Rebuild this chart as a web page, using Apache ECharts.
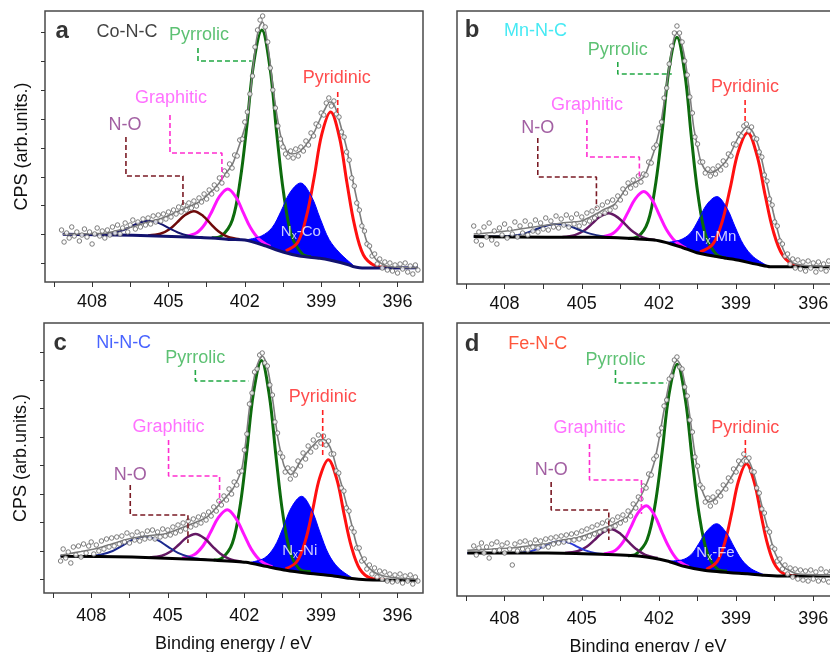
<!DOCTYPE html>
<html>
<head>
<meta charset="utf-8">
<script src="https://cdn.jsdelivr.net/npm/echarts@6/dist/echarts.min.js"></script>
<style>html,body{margin:0;padding:0;background:#fff}#main{width:830px;height:652px}</style>
</head>
<body>
<div id="main"></div>
<script>
// binding energy of the measured points (eV), shared by the four scans
const energyScan = [
  409.2,409.1,409.0,408.9,408.8,408.7,408.6,408.5,408.4,408.3,
  408.2,408.1,408.0,407.9,407.8,407.7,407.6,407.5,407.4,407.3,
  407.2,407.1,407.0,406.9,406.8,406.7,406.6,406.5,406.4,406.3,
  406.2,406.1,406.0,405.9,405.8,405.7,405.6,405.5,405.4,405.3,
  405.2,405.1,405.0,404.9,404.8,404.7,404.6,404.5,404.4,404.3,
  404.2,404.1,404.0,403.9,403.8,403.7,403.6,403.5,403.4,403.3,
  403.2,403.1,403.0,402.9,402.8,402.7,402.6,402.5,402.4,402.3,
  402.2,402.1,402.0,401.9,401.8,401.7,401.6,401.5,401.4,401.3,
  401.2,401.1,401.0,400.9,400.8,400.7,400.6,400.5,400.4,400.3,
  400.2,400.1,400.0,399.9,399.8,399.7,399.6,399.5,399.4,399.3,
  399.2,399.1,399.0,398.9,398.8,398.7,398.6,398.5,398.4,398.3,
  398.2,398.1,398.0,397.9,397.8,397.7,397.6,397.5,397.4,397.3,
  397.2,397.1,397.0,396.9,396.8,396.7,396.6,396.5,396.4,396.3,
  396.2,396.1,396.0,395.9,395.8,395.7,395.6,395.5,395.4,395.3,
  395.2
];

const countsA = [
  52,40,49,44,55,46,50,41,47,53, 45,50,38,48,54,46,51,44,52,47,
  55,49,57,48,54,59,50,57,62,53, 60,55,63,57,64,58,66,60,67,61,
  68,63,70,65,72,68,75,70,77,72, 79,74,81,76,84,80,88,83,92,88,
  97,93,104,99,111,107,118,114,127,126, 142,143,160,170,188,206,235,252,262,266,
  255,240,214,192,174,156,143,135,128,125, 131,124,133,126,135,131,141,137,149,146,
  158,156,169,167,179,184,176,181,168,165, 150,145,130,122,104,96,79,72,56,51,
  38,36,26,28,18,23,14,20,12,19, 11,17,9,18,13,19,10,16,8,17, 12
];
const countsB = [
  58,43,52,39,57,47,61,44,53,40, 56,49,60,46,55,50,62,47,58,51,
  63,49,59,53,64,52,61,55,66,54, 63,57,68,56,65,59,69,57,66,60,
  70,58,67,61,71,63,73,66,76,69, 79,71,82,74,84,77,88,84,95,91,
  101,96,104,99,108,102,110,109,122,121, 136,139,156,162,186,196,220,238,251,258,
  251,242,223,209,187,171,147,140,122,122, 111,115,108,115,110,118,114,123,119,130,
  128,140,139,150,148,158,160,153,157,146, 145,132,127,109,103,85,79,62,58,43,
  40,28,30,20,25,16,24,15,22,13, 23,16,21,12,22,15,20,13,23,16, 21
];
const countsC = [
  32,44,35,41,30,46,38,47,36,49, 40,47,51,39,48,42,52,44,54,46,
  55,47,56,49,57,51,60,50,58,53, 61,52,59,54,62,55,63,54,61,56,
  64,57,63,58,66,60,68,62,70,64, 72,66,74,68,76,70,78,73,81,77,
  86,82,92,88,97,93,104,99,111,108, 121,122,143,159,189,200,221,224,238,240,
  230,227,208,198,171,160,140,136,121,125, 114,124,118,132,127,140,134,147,141,153,
  146,158,150,157,148,152,139,139,122,120, 105,102,85,82,65,61,45,45,32,34,
  24,28,19,25,16,22,14,21,12,19, 11,18,12,19,10,17,12,18,9,16, 12
];
const countsD = [
  50,41,48,53,43,49,38,52,45,54, 46,51,43,53,47,31,52,45,54,47,
  55,46,53,49,56,48,55,50,57,49, 58,52,59,53,60,54,61,55,62,56,
  63,57,65,58,67,60,69,62,71,64, 73,66,75,68,76,70,79,73,81,76,
  85,80,92,88,99,97,110,108,122,121, 137,140,161,168,190,196,217,220,236,239,
  229,227,209,200,176,164,139,130,111,108, 94,98,90,99,94,104,100,111,107,118,
  115,127,124,135,132,142,135,138,125,124, 108,103,87,83,67,64,49,47,35,37,
  27,31,22,28,19,27,17,26,16,25, 15,26,17,24,15,27,16,24,14,25, 18
];

// fitted envelopes [eV, intensity]
const envelopeA = [[409.15,47.7],[408.2,48.3],[407.45,48.8],[406.9,52.2],[406.4,55.3],[405.75,60.3],[405.09,65.3],[404.44,72.7],[403.78,80.3],[403.4,88.6],[403.12,95.3],[402.8,106.6],[402.47,118.7],[402.2,138],[401.94,160],[401.8,185],[401.68,214],[401.55,241],[401.42,256],[401.3,260],[401.18,250],[401.03,224],[400.9,196],[400.77,172],[400.6,147],[400.5,138.7],[400.35,131],[400.15,128],[399.85,130.3],[399.6,137],[399.45,142],[399.25,151],[399.06,162],[398.85,173],[398.67,180],[398.55,179.5],[398.41,172],[398.2,153],[398.01,135],[397.8,107],[397.62,85],[397.4,59],[397.23,42],[397.0,29],[396.83,22],[396.6,18],[396.44,16],[396.0,14.8],[395.2,14.3]];
const envelopeB = [[409.2,50],[408.8,50.7],[408.2,52.2],[407.64,54],[407.0,56.5],[406.34,59],[405.7,61.3],[405.05,62.8],[404.7,66.5],[404.4,70.7],[404.1,75],[403.76,79],[403.5,87],[403.24,97],[402.9,102],[402.59,107],[402.4,118],[402.2,132],[401.95,157],[401.82,178],[401.69,201],[401.55,226],[401.42,245],[401.3,252],[401.17,246],[401.05,233],[400.97,222],[400.8,190],[400.65,157],[400.5,137],[400.39,124],[400.25,116],[400.13,112.3],[399.95,111.5],[399.75,114],[399.55,118.5],[399.36,124],[399.15,134],[398.97,144],[398.78,152],[398.58,157],[398.45,155.5],[398.32,150.7],[398.12,137],[397.94,117],[397.75,94],[397.55,71],[397.35,50],[397.16,34],[396.95,25],[396.77,20.7],[396.4,18.7],[395.8,18.1],[395.2,18]];
const envelopeC = [[409.2,38],[409.09,38.3],[408.4,41.5],[407.71,45],[407.2,49],[406.66,53.3],[406.3,55.2],[405.88,56.7],[405.5,58],[405.09,59.3],[404.7,62.8],[404.3,66.7],[403.9,70.8],[403.52,75],[403.25,81],[402.99,88.3],[402.75,95],[402.47,103.3],[402.25,114],[402.08,126.7],[401.95,150],[401.81,183],[401.68,206],[401.55,223],[401.42,233],[401.29,236.7],[401.16,231],[401.03,217],[400.87,190],[400.7,157],[400.55,138],[400.44,127],[400.3,121],[400.18,118.3],[400.0,123],[399.85,130],[399.65,137],[399.46,143.3],[399.25,149],[399.06,153.3],[398.9,153.5],[398.73,150],[398.55,140],[398.41,127],[398.2,109],[398.01,90],[397.8,69],[397.62,50],[397.42,37],[397.23,28.3],[396.95,21.5],[396.7,18.3],[396.2,15.5],[395.33,14],[395.2,14]];
const envelopeD = [[409.45,45.7],[408.5,47],[407.64,48.3],[407.0,50.3],[406.34,52.3],[405.82,55.7],[405.18,58.3],[404.85,61],[404.53,64],[404.2,67.3],[403.85,70.7],[403.55,74.5],[403.23,79],[402.98,88],[402.72,99],[402.45,114],[402.2,132],[402.03,152],[401.87,176],[401.7,200],[401.55,219],[401.42,231],[401.29,235.7],[401.15,230],[400.97,209],[400.8,180],[400.64,149],[400.48,124],[400.32,105.7],[400.18,97.5],[400.06,94],[399.9,95.5],[399.74,99],[399.55,105],[399.35,112.3],[399.15,120.5],[398.96,129],[398.8,135.5],[398.64,139],[398.48,134],[398.31,122],[398.12,103],[397.92,82],[397.72,63],[397.53,45.7],[397.35,36],[397.15,29],[396.9,25],[396.63,22.3],[396.0,21.2],[395.4,20.7],[395.2,20.6]];

// backgrounds
const baselineA = [[395.2,14.3],[397.3,13.9],[397.75,15.5],[398.0,17.8],[398.67,22],[399.06,23.7],[399.85,26],[400.5,30],[401.29,37],[402.0,42],[402.59,42.5],[403.26,44],[404.57,45.3],[406.4,46.7],[409.15,47.7]];
const baselineB = [[395.2,17.3],[397.68,17.3],[398.06,19],[399.1,24.7],[399.88,28],[400.52,31.3],[401.17,37.3],[402.01,43.3],[403.24,45.7],[404.53,46.7],[406.34,46.7],[408.8,47.3],[409.2,47.4]];
const baselineC = [[395.2,12.7],[397.23,13.3],[397.88,14.7],[398.54,17.3],[399.59,20],[400.37,22.7],[401.16,26.7],[401.94,30.7],[403.12,32.7],[404.3,34],[406.4,36],[409.02,36.7],[409.2,36.8]];
const baselineD = [[395.2,20],[397.27,20],[397.92,20.7],[398.57,22.3],[399.22,23.3],[400.25,25.7],[401.03,29.7],[401.68,35],[402.72,39.7],[404.27,41.7],[406.34,43],[409.45,43]];

// fitted components [eV, intensity incl. background]
const pyrrolicA = [[399.4,25.2],[399.74,27.9],[400.17,47.1],[400.48,89.7],[400.75,149.5],[401.01,214],[401.33,252],[401.65,219],[401.91,158.5],[402.18,102],[402.49,62],[402.92,46.1],[403.3,44.2]];
const pyridinicA = [[396.4,14.5],[396.87,16.1],[397.34,27.0],[397.69,56.8],[397.99,99.6],[398.28,144.3],[398.63,170],[398.98,147.3],[399.27,105.6],[399.57,66.6],[399.92,39.7],[400.39,31.1]];
const nxA = [[397.71,16.1],[398.27,29],[398.69,42.6],[399.04,63.5],[399.39,86],[399.81,99],[400.23,89.3],[400.58,70.7],[400.93,54.3],[401.35,46],[401.91,42.3]];
const graphiticA = [[401.0,35.6],[401.45,43],[401.78,54.4],[402.06,69.3],[402.34,84.5],[402.67,93],[403.0,85.3],[403.28,71.3],[403.56,58.2],[403.89,49.3],[404.34,45.7]];
const noxA = [[402.2,42.7],[402.68,45.3],[403.04,50.8],[403.34,58.2],[403.64,66.1],[404.0,70.8],[404.36,66.8],[404.66,59.6],[404.96,52.8],[405.32,48.2],[405.8,46.5]];
const broadA = [[403.65,44.6],[404.21,46.3],[404.63,49.5],[404.98,53.8],[405.33,58.4],[405.75,61.2],[406.17,59],[406.52,54.9],[406.87,51.1],[407.29,48.4],[407.85,47.5],[408.6,47.8],[409.15,47.9]];

const pyrrolicB = [[399.4,26],[399.77,29.8],[400.18,48.2],[400.48,89],[400.74,147.1],[400.99,209.7],[401.3,246.7],[401.61,214.6],[401.86,156],[402.12,101.6],[402.42,62.7],[402.83,47.2],[403.2,45.6]];
const pyridinicB = [[396.2,17.4],[396.69,18.7],[397.19,28.8],[397.56,53.3],[397.87,88.8],[398.18,127.8],[398.55,151.3],[398.92,132],[399.23,95.9],[399.54,62.5],[399.91,39.6],[400.41,32.1]];
const nxB = [[397.8,18.5],[398.32,27],[398.71,39.2],[399.04,57.2],[399.36,75.9],[399.75,87.4],[400.14,79.5],[400.47,63.7],[400.79,50.5],[401.18,44],[401.7,41.6]];
const graphiticB = [[400.94,35.6],[401.38,43.1],[401.71,54.5],[401.99,69.4],[402.26,83.9],[402.59,92.4],[402.92,85.2],[403.2,71.9],[403.47,59.2],[403.8,50.4],[404.24,47]];
const noxB = [[402.15,43.9],[402.63,46.7],[402.99,52],[403.29,59.1],[403.59,66.4],[403.95,70.7],[404.31,67],[404.61,60.1],[404.91,53.5],[405.27,48.9],[405.75,47]];
const broadB = [[403.56,46],[404.2,47.7],[404.68,50.4],[405.08,54],[405.48,57.8],[405.96,60],[406.44,57.8],[406.84,54],[407.24,50.4],[407.72,48.2],[408.36,47.4],[409.2,47.6]];

const pyrrolicC = [[399.4,21.5],[399.77,22.8],[400.19,40],[400.5,80.4],[400.76,136.6],[401.02,197.2],[401.33,232.6],[401.64,200.4],[401.9,142.5],[402.16,88.1],[402.47,49.8],[402.89,34.6],[403.2,33]];
const pyridinicC = [[396.5,13.4],[397.03,14.6],[397.48,24.1],[397.81,46.7],[398.09,78.6],[398.37,113.1],[398.71,133.3],[399.05,115.1],[399.33,82.4],[399.61,52.1],[399.94,31.5],[400.39,24.1]];
const nxC = [[397.78,15.3],[398.31,25],[398.7,38.9],[399.03,60.2],[399.36,83],[399.76,96.7],[400.16,85.4],[400.49,64.9],[400.82,46.2],[401.21,35],[401.74,30.8]];
const graphiticC = [[400.9,26],[401.37,32.4],[401.73,43.9],[402.02,58.9],[402.32,74.2],[402.67,83.3],[403.02,75.4],[403.32,61],[403.61,47.5],[403.97,38.2],[404.44,34.7]];
const noxC = [[402.11,31.3],[402.59,34.1],[402.95,39.5],[403.25,46.7],[403.55,54.4],[403.91,59],[404.27,55.3],[404.57,48.2],[404.87,41.7],[405.23,37.3],[405.71,35.6]];
const broadC = [[403.48,33.3],[404.12,35.8],[404.6,40.1],[405.0,46.4],[405.4,52.8],[405.88,56.5],[406.36,53.5],[406.76,47.6],[407.16,42],[407.64,38.3],[408.28,36.7],[409.2,36.9]];

const pyrrolicD = [[399.35,25],[399.7,26.6],[400.12,43.2],[400.44,82.3],[400.71,137.2],[400.97,196.3],[401.29,231.8],[401.61,201.6],[401.87,145.2],[402.14,92.8],[402.46,56.3],[402.88,42.1],[403.2,40.3]];
const pyridinicD = [[396.6,20.1],[397.04,21.2],[397.46,30],[397.77,51.1],[398.03,81.1],[398.29,113.5],[398.6,132.3],[398.91,114.7],[399.17,83.3],[399.43,54.3],[399.74,34.3],[400.16,26.7]];
const nxD = [[397.9,21.2],[398.4,27],[398.77,35.9],[399.08,49.2],[399.39,63.6],[399.76,72.3],[400.13,65.2],[400.44,52.8],[400.75,41.3],[401.12,36],[401.62,35]];
const graphiticD = [[400.84,29.3],[401.28,36.3],[401.61,48.9],[401.89,64.2],[402.16,80.3],[402.49,90.2],[402.82,82.9],[403.1,68.3],[403.37,54.8],[403.7,45.5],[404.14,42.1]];
const noxD = [[402.05,37.9],[402.53,41.1],[402.89,47.1],[403.19,54.3],[403.49,62.1],[403.85,66.7],[404.21,63.1],[404.51,55.9],[404.81,49.2],[405.17,44.7],[405.65,43]];
const broadD = [[404.02,41.6],[404.5,43],[404.86,45.6],[405.16,49.1],[405.46,52.9],[405.82,55.1],[406.18,53.3],[406.48,49.7],[406.78,46.4],[407.14,44.1],[407.62,43.1],[408.5,43],[409.45,43]];

// axes
const xLabelValues = [396, 399, 402, 405, 408];
const xTickValues = [396, 397.5, 399, 400.5, 402, 403.5, 405, 406.5, 408, 409.5];
const yTicksA = [19, 48, 77, 105, 134, 163, 192, 221, 250];
const yTicksC = [14, 42, 71, 99, 128, 156, 185, 213, 241];

// annotation anchors [eV, intensity]
const notesA = {letter:[409.18,251], sample:[406.63,250], pyrrolic:[403.8,247], graphitic:[404.9,184], nox:[406.71,157], pyridinic:[398.39,204], nx:[399.8,50]};
const notesB = {letter:[409.26,254], sample:[406.8,253], pyrrolic:[403.6,234], graphitic:[404.8,179], nox:[406.71,156], pyridinic:[398.65,197], nx:[399.8,47]};
const notesC = {letter:[409.22,250], sample:[406.73,250], pyrrolic:[403.92,235], graphitic:[404.97,166], nox:[406.47,118], pyridinic:[398.93,196], nx:[399.83,42]};
const notesD = {letter:[409.26,252], sample:[406.71,252], pyrrolic:[403.69,236], graphitic:[404.7,168], nox:[406.19,126], pyridinic:[398.64,168], nx:[399.8,43]};

const leadersA = {
  pyrrolic:[[403.84,234],[403.84,221],[401.73,221]],
  graphitic:[[404.94,167],[404.94,129],[402.9,129],[402.9,102]],
  nox:[[406.67,145],[406.67,106],[404.43,106],[404.43,75]],
  pyridinic:[[398.35,190],[398.35,167]]
};
const leadersB = {
  pyrrolic:[[403.6,222],[403.6,210],[401.5,210]],
  graphitic:[[404.8,164],[404.8,127],[402.76,127],[402.76,104]],
  nox:[[406.71,146],[406.71,107],[404.43,107],[404.43,76]],
  pyridinic:[[398.65,184],[398.65,161]]
};
const leadersC = {
  pyrrolic:[[403.92,223],[403.92,212],[401.83,212]],
  graphitic:[[404.97,153],[404.97,117],[402.97,117],[402.97,90]],
  nox:[[406.47,108],[406.47,78],[404.21,78],[404.21,50]],
  pyridinic:[[398.93,183],[398.93,137]]
};
const leadersD = {
  pyrrolic:[[403.69,226],[403.69,213],[401.69,213]],
  graphitic:[[404.7,152],[404.7,116],[402.68,116],[402.68,82]],
  nox:[[406.19,114],[406.19,86],[403.95,86],[403.95,56]],
  pyridinic:[[398.64,156],[398.64,139]]
};

const FONT = '"Liberation Sans", Arial, Helvetica, sans-serif';

const panels = [
  {letter:'a', sample:'Co-N-C', sampleColor:'#111111', metal:'Co',
   grid:{left:45, top:11, width:378, height:271}, yTicks:yTicksA, xName:false, labelGap:11,
   counts:countsA, envelope:envelopeA, baseline:baselineA, pyrrolic:pyrrolicA, pyridinic:pyridinicA,
   nx:nxA, graphitic:graphiticA, nox:noxA, broad:broadA, notes:notesA, leaders:leadersA,
   noxColor:'#6e0a0a', broadColor:'#141470', baseColor:'#12126e'},
  {letter:'b', sample:'Mn-N-C', sampleColor:'#18e4f0', metal:'Mn',
   grid:{left:457, top:11, width:382, height:273}, yTicks:null, xName:false, labelGap:11,
   counts:countsB, envelope:envelopeB, baseline:baselineB, pyrrolic:pyrrolicB, pyridinic:pyridinicB,
   nx:nxB, graphitic:graphiticB, nox:noxB, broad:broadB, notes:notesB, leaders:leadersB,
   noxColor:'#641864', broadColor:'#1c2a80', baseColor:'#000000'},
  {letter:'c', sample:'Ni-N-C', sampleColor:'#1a3cff', metal:'Ni',
   grid:{left:44, top:323, width:379, height:270}, yTicks:yTicksC, xName:true, labelGap:14,
   counts:countsC, envelope:envelopeC, baseline:baselineC, pyrrolic:pyrrolicC, pyridinic:pyridinicC,
   nx:nxC, graphitic:graphiticC, nox:noxC, broad:broadC, notes:notesC, leaders:leadersC,
   noxColor:'#641864', broadColor:'#1c2a90', baseColor:'#000000'},
  {letter:'d', sample:'Fe-N-C', sampleColor:'#ff2a0a', metal:'Fe',
   grid:{left:457, top:323, width:382, height:273}, yTicks:null, xName:true, labelGap:14,
   counts:countsD, envelope:envelopeD, baseline:baselineD, pyrrolic:pyrrolicD, pyridinic:pyridinicD,
   nx:nxD, graphitic:graphiticD, nox:noxD, broad:broadD, notes:notesD, leaders:leadersD,
   noxColor:'#641864', broadColor:'#2a3ad8', baseColor:'#000000'}
];

function curve(i, data, color, width, extra) {
  return Object.assign({
    type: 'line', xAxisIndex: i, yAxisIndex: i, data: data,
    symbol: 'none', smooth: 0.35, silent: true, animation: false,
    lineStyle: { color: color, width: width }
  }, extra || {});
}

function dashed(i, data, color) {
  return curve(i, data, color, 1.6, { smooth: false, z: 4, lineStyle: { color: color, width: 1.6, type: [5, 3] } });
}

const grids = [], xAxes = [], yAxes = [], series = [];

panels.forEach(function (p, i) {
  grids.push(Object.assign({ show: true, borderColor: '#4a4a4a', borderWidth: 1.5, backgroundColor: '#fff', outerBoundsMode: 'none', containLabel: false }, p.grid));

  xAxes.push({
    type: 'value', gridIndex: i, inverse: true, min: 395, max: 409.85,
    splitLine: { show: false }, axisLine: { show: false },
    axisTick: { show: true, length: 5, lineStyle: { color: '#333' }, customValues: xTickValues },
    axisLabel: { fontSize: 18, color: '#111', fontFamily: FONT, margin: p.labelGap, customValues: xLabelValues },
    name: p.xName ? 'Binding energy / eV' : '', nameLocation: 'middle', nameGap: 42,
    nameTextStyle: { fontSize: 18, color: '#111', fontFamily: FONT }
  });

  yAxes.push({
    type: 'value', gridIndex: i, min: 0, max: p.grid.height,
    splitLine: { show: false }, axisLine: { show: false }, axisLabel: { show: false },
    axisTick: p.yTicks ? { show: true, length: 4, lineStyle: { color: '#333' }, customValues: p.yTicks } : { show: false },
    name: p.yTicks ? 'CPS (arb.units.)' : '', nameLocation: 'middle', nameGap: 14,
    nameTextStyle: { fontSize: 18, color: '#111', fontFamily: FONT }
  });

  series.push(curve(i, p.pyrrolic, '#0d6b0d', 3));
  series.push(curve(i, p.pyridinic, '#ff1010', 3));
  series.push(curve(i, p.graphitic, '#ff14ff', 3));
  series.push(curve(i, p.nox, p.noxColor, 2.5));
  series.push(curve(i, p.broad, p.broadColor, 2));

  // Nx component filled in blue down to a low origin; the background
  // curve then masks everything below itself in white
  series.push(curve(i, p.nx, '#0000ff', 1, { areaStyle: { color: '#0000ff', opacity: 1, origin: 4 } }));
  series.push(curve(i, p.baseline, p.baseColor, 3, { smooth: 0.2, areaStyle: { color: '#ffffff', opacity: 1, origin: 4 } }));

  // measured points and envelope sit above all fitted curves
  series.push({
    type: 'scatter', xAxisIndex: i, yAxisIndex: i, silent: true, animation: false, z: 3,
    data: energyScan.map(function (e, k) { return [e, p.counts[k]]; }),
    symbol: 'circle', symbolSize: 4.5,
    itemStyle: { color: '#ffffff', borderColor: '#5e5e5e', borderWidth: 1 }
  });
  series.push(curve(i, p.envelope, '#7d7d7d', 1.6, { smooth: 0.25, z: 3 }));

  series.push(dashed(i, p.leaders.pyrrolic, '#22a844'));
  series.push(dashed(i, p.leaders.graphitic, '#ff2ed0'));
  series.push(dashed(i, p.leaders.nox, '#7a1a24'));
  series.push(dashed(i, p.leaders.pyridinic, '#ff2020'));

  const n = p.notes;
  function note(pos, text, color, size, bold) {
    return { value: pos, name: text, label: { color: color, fontSize: size, fontWeight: bold ? 'bold' : 'normal' } };
  }
  series.push({
    type: 'scatter', xAxisIndex: i, yAxisIndex: i, silent: true, animation: false,
    symbolSize: 1, itemStyle: { color: 'rgba(0,0,0,0)' }, z: 5,
    label: {
      show: true, position: 'inside', formatter: '{b}', fontFamily: FONT,
      rich: {
        n: { color: '#fff', fontSize: 15, lineHeight: 18, fontFamily: FONT },
        s: { color: '#fff', fontSize: 10, lineHeight: 9, verticalAlign: 'bottom', fontFamily: FONT }
      }
    },
    data: [
      note(n.letter, p.letter, '#000', 24, true),
      note(n.sample, p.sample, p.sampleColor, 18),
      note(n.pyrrolic, 'Pyrrolic', '#35b150', 18),
      note(n.graphitic, 'Graphitic', '#ff4dff', 18),
      note(n.nox, 'N-O', '#8b378b', 18),
      note(n.pyridinic, 'Pyridinic', '#ff2020', 18),
      note(n.nx, '{n|N}{s|x}{n|-' + p.metal + '}', '#fff', 15)
    ]
  });
});

const chart = echarts.init(document.getElementById('main'), null, { renderer: 'canvas' });
chart.setOption({
  animation: false,
  backgroundColor: '#ffffff',
  textStyle: { fontFamily: FONT },
  grid: grids,
  xAxis: xAxes,
  yAxis: yAxes,
  series: series
});
</script>
</body>
</html>
